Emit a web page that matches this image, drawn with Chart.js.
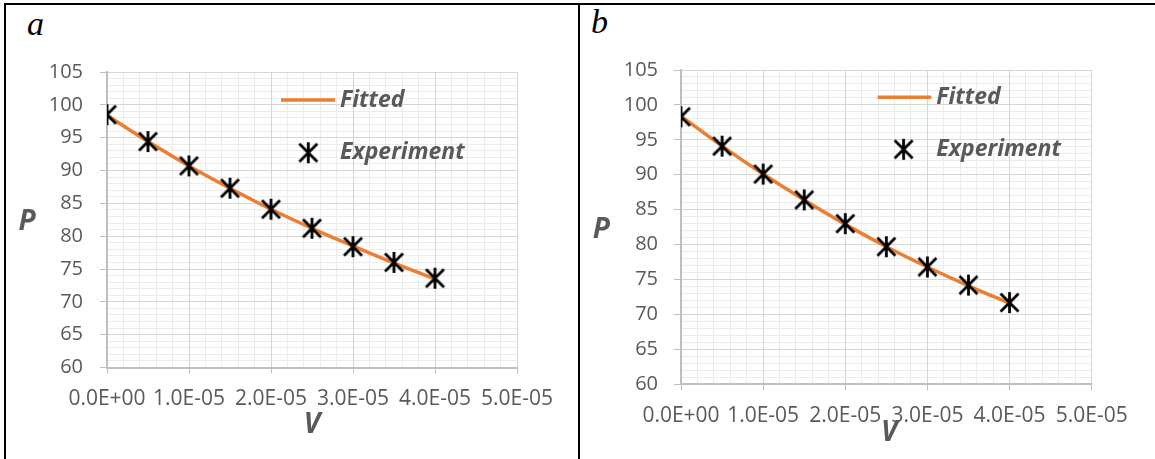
<!DOCTYPE html>
<html>
<head>
<meta charset="utf-8">
<script src="https://cdn.jsdelivr.net/npm/chart.js@4"></script>
<style>
  html, body { margin: 0; padding: 0; background: #fff; }
  body { width: 1155px; height: 459px; position: relative; overflow: hidden; }
  canvas { position: absolute; top: 0; }
  #chartA { left: 0; }
  #chartB { left: 578px; }
  .rule { position: absolute; background: #000; }
  .tag { position: absolute; font: italic 34px "Liberation Serif", "Times New Roman", serif; line-height: 34px; color: #000; }
</style>
</head>
<body>
<div class="rule" style="left:4px;top:3px;width:1151px;height:2px"></div>
<div class="rule" style="left:4px;top:3px;width:2px;height:456px"></div>
<div class="rule" style="left:578px;top:3px;width:2px;height:456px"></div>
<div class="tag" style="left:27px;top:7px">a</div>
<div class="tag" style="left:591px;top:5px">b</div>
<canvas id="chartA" width="578" height="459"></canvas>
<canvas id="chartB" width="577" height="459"></canvas>
<script>
// volume values shared by both panels
const volume = [0, 5e-6, 1e-5, 1.5e-5, 2e-5, 2.5e-5, 3e-5, 3.5e-5, 4e-5];

// panel a
const expA = [98.5, 94.4, 90.7, 87.3, 84.1, 81.2, 78.4, 76.0, 73.6];
const fitA = [98.4, 94.4, 90.7, 87.3, 84.1, 81.2, 78.5, 75.9, 73.5];

// panel b
const expB = [98.3, 94.1, 90.1, 86.4, 83.0, 79.7, 76.8, 74.2, 71.7];
const fitB = [98.4, 94.1, 90.1, 86.4, 82.9, 79.7, 76.8, 74.1, 71.6];

// axis ranges and steps
const pRange = [60, 105];
const pStep = 5;
const vRange = [0, 5e-5];
const vStep = 1e-5;

const GRAY_TEXT = '#595959';
const ORANGE = '#ED7D31';

// Excel style "star" marker: an X with a vertical bar
function starMarker(size) {
  const c = document.createElement('canvas');
  c.width = c.height = size;
  const g = c.getContext('2d');
  const m = 2.5;
  g.strokeStyle = '#000';
  g.lineWidth = 2.8;
  g.beginPath();
  g.moveTo(m, m); g.lineTo(size - m, size - m);
  g.moveTo(size - m, m); g.lineTo(m, size - m);
  g.moveTo(size / 2, 1); g.lineTo(size / 2, size - 1);
  g.stroke();
  return c;
}
const marker = starMarker(23);

// 1.0E-05 style labels
function sci(v) {
  if (Math.abs(v) < 1e-12) return '0.0E+00';
  const [m, e] = Number(v).toExponential(1).split('e');
  const n = parseInt(e, 10);
  return m + 'E' + (n < 0 ? '-' : '+') + String(Math.abs(n)).padStart(2, '0');
}

// upright axis letters plus the in-plot legend
const decorations = {
  id: 'decorations',
  afterDatasetsDraw(chart, args, o) {
    const { ctx, chartArea: a } = chart;
    const midX = (a.left + a.right) / 2;
    const midY = (a.top + a.bottom) / 2;
    ctx.save();
    ctx.fillStyle = GRAY_TEXT;
    ctx.textBaseline = 'middle';
    ctx.textAlign = 'center';
    ctx.font = 'italic bold 28px "Open Sans"';
    ctx.fillText('P', a.left + o.pOffset[0], midY + o.pOffset[1]);
    ctx.fillText('V', midX + o.vOffset[0], a.bottom + o.vOffset[1]);

    const lg = o.legend;
    const [expSet, fitSet] = chart.data.datasets;
    ctx.strokeStyle = ORANGE;
    ctx.lineWidth = 3.5;
    ctx.beginPath();
    ctx.moveTo(a.left + lg.lineFrom, a.top + lg.row1);
    ctx.lineTo(a.left + lg.lineTo, a.top + lg.row1);
    ctx.stroke();
    ctx.drawImage(marker, a.left + lg.mark - marker.width / 2, a.top + lg.row2 - marker.height / 2);
    ctx.textAlign = 'left';
    ctx.font = 'italic bold 23px "Open Sans"';
    ctx.fillText(fitSet.label, a.left + lg.text, a.top + lg.row1);
    ctx.fillText(expSet.label, a.left + lg.text, a.top + lg.row2);
    ctx.restore();
  }
};

function points(ys) {
  return volume.map((v, i) => ({ x: v, y: ys[i] }));
}

function makeChart(id, exp, fit, box, deco) {
  return new Chart(document.getElementById(id), {
    type: 'scatter',
    data: {
      datasets: [
        {
          label: 'Experiment',
          data: points(exp),
          xAxisID: 'x', yAxisID: 'y',
          pointStyle: marker,
          pointRadius: 11,
          showLine: false,
          order: 1
        },
        {
          label: 'Fitted',
          data: points(fit),
          xAxisID: 'x', yAxisID: 'y',
          showLine: true,
          borderColor: ORANGE,
          borderWidth: 3.5,
          pointRadius: 0,
          tension: 0.4,
          order: 2
        }
      ]
    },
    options: {
      responsive: false,
      animation: false,
      devicePixelRatio: 1,
      layout: { padding: 0 },
      plugins: {
        legend: { display: false },
        tooltip: { enabled: false },
        decorations: deco
      },
      scales: {
        x: {
          type: 'linear', axis: 'x', position: 'bottom',
          min: vRange[0], max: vRange[1],
          afterFit: s => { s.height = box.bottom; },
          ticks: {
            stepSize: vStep, callback: sci, maxRotation: 0, autoSkip: false, padding: 13,
            color: GRAY_TEXT, font: { family: 'Open Sans', size: 21 }
          },
          grid: { color: '#d6d6d6', tickLength: 6, tickColor: '#bfbfbf' },
          border: { color: '#bfbfbf', width: 2 }
        },
        y: {
          type: 'linear', axis: 'y', position: 'left',
          min: pRange[0], max: pRange[1],
          afterFit: s => { s.width = box.left; },
          ticks: {
            stepSize: pStep, padding: box.labelGap,
            color: GRAY_TEXT, font: { family: 'Open Sans', size: 20 }
          },
          grid: { color: '#d6d6d6', tickLength: 7, tickColor: '#bfbfbf' },
          border: { color: '#bfbfbf', width: 2 }
        },
        // minor gridlines
        xMinor: {
          type: 'linear', axis: 'x', position: 'top',
          min: vRange[0], max: vRange[1],
          afterFit: s => { s.height = box.top; },
          ticks: { display: false, stepSize: vStep / 5 },
          grid: { color: '#ebebeb', drawTicks: false, z: -2 },
          border: { display: false }
        },
        yMinor: {
          type: 'linear', axis: 'y', position: 'right',
          min: pRange[0], max: pRange[1],
          afterFit: s => { s.width = box.right; },
          ticks: { display: false, stepSize: pStep / 5 },
          grid: { color: '#ebebeb', drawTicks: false, z: -2 },
          border: { display: false }
        }
      }
    },
    plugins: [decorations]
  });
}

makeChart('chartA', expA, fitA,
  { left: 107, right: 61, top: 72, bottom: 91.5, labelGap: 17 },
  {
    pOffset: [-80, 2], vOffset: [0, 57.5],
    legend: { lineFrom: 174, lineTo: 228, row1: 28, row2: 80.7, mark: 201.3, text: 233 }
  });

makeChart('chartB', expB, fitB,
  { left: 103, right: 63.3, top: 70, bottom: 74.7, labelGap: 16 },
  {
    pOffset: [-79.7, 3], vOffset: [3, 48.7],
    legend: { lineFrom: 196.6, lineTo: 250.3, row1: 27.3, row2: 79.3, mark: 222.6, text: 255.3 }
  });
</script>
</body>
</html>
